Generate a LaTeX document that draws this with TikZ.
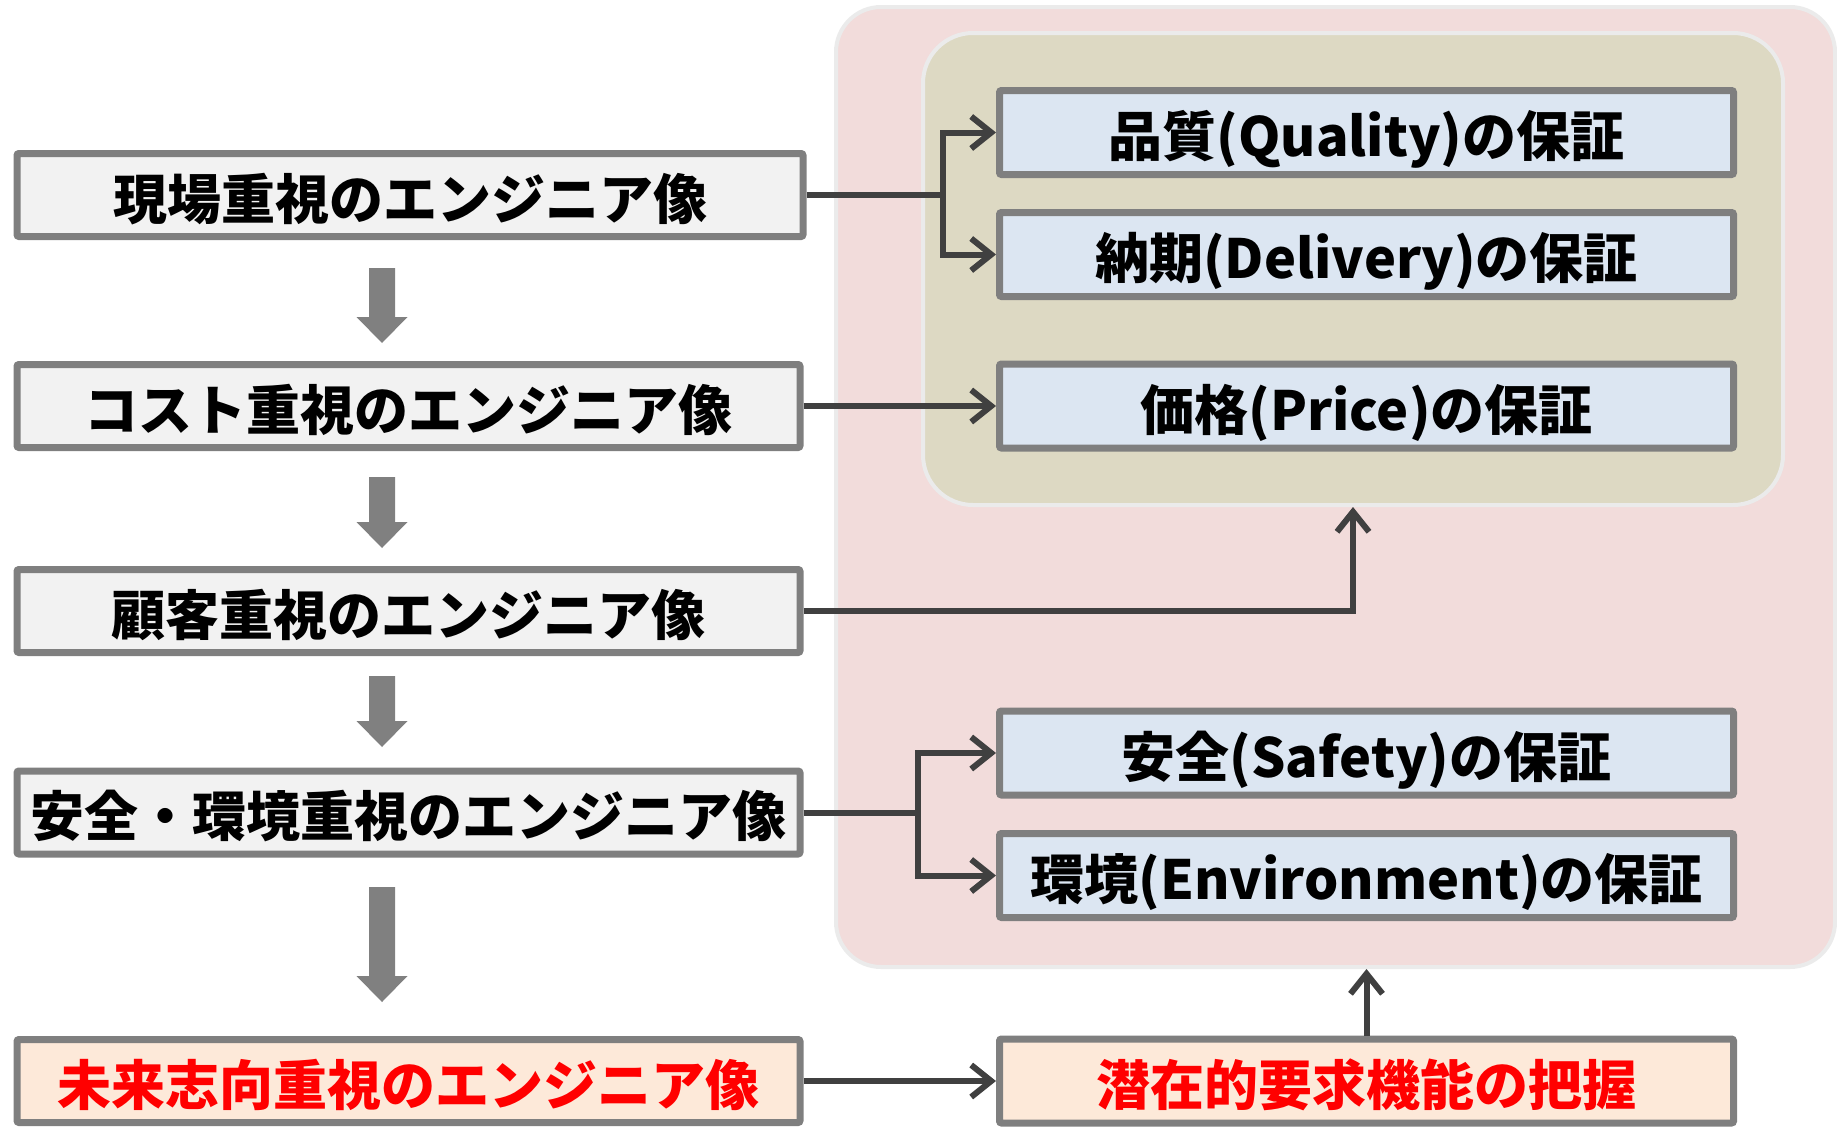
\documentclass[tikz,border=0pt]{standalone}
\usepackage{fontspec}
\setmainfont{Noto Sans CJK JP}
\usetikzlibrary{arrows.meta,calc}
\definecolor{boxborder}{HTML}{7F7F7F}
\definecolor{leftfill}{HTML}{F2F2F2}
\definecolor{bluefill}{HTML}{DCE6F2}
\definecolor{redfill}{HTML}{FDE9D9}
\definecolor{redtext}{HTML}{FF0000}
\definecolor{pinkfill}{HTML}{F2DCDB}
\definecolor{olivefill}{HTML}{DDD9C3}
\definecolor{regionborder}{HTML}{EBEBEB}
\definecolor{conn}{HTML}{404040}
\definecolor{blockarr}{HTML}{808080}
\newcommand{\blockarrow}[3]{%
  \fill[blockarr] (#1-13,#2) -- (#1+13,#2) -- (#1+13,#3-26) -- (#1+25.5,#3-26)
    -- (#1,#3) -- (#1-25.5,#3-26) -- (#1-13,#3-26) -- cycle;}
\tikzset{
  boxtext/.style={font=\fontsize{54}{62}\selectfont\bfseries, text height=62pt, text depth=14pt},
  lbox/.style={draw=boxborder, line width=7pt, fill=leftfill, rounded corners=2pt,
    minimum width=783pt, minimum height=83pt, inner sep=0pt, boxtext},
  rbox/.style={draw=boxborder, line width=7pt, fill=bluefill, rounded corners=2pt,
    minimum width=734pt, minimum height=84pt, inner sep=0pt, boxtext},
  redbox/.style={fill=redfill, text=redtext},
  region/.style={draw=regionborder, line width=4pt, inner sep=0pt},
  conline/.style={draw=conn, line width=6pt},
  arr/.style={conline, -{Straight Barb[length=20pt,width=32pt]}},
}
\begin{document}
\begin{tikzpicture}[x=1pt,y=-1pt]
\useasboundingbox (0,0) rectangle (1837,1127);
% background regions
\node[region, fill=pinkfill, rounded corners=45pt, minimum width=999pt, minimum height=960pt]
  (pinkbg) at (1335.5,487) {};
\node[region, fill=olivefill, rounded corners=50pt, minimum width=860pt, minimum height=472pt]
  (olivebg) at (1353,269) {};
% left column
\node[lbox, minimum width=786pt] (L1) at (410,195) {現場重視のエンジニア像};
\node[lbox] (L2) at (408.5,406) {コスト重視のエンジニア像};
\node[lbox] (L3) at (408.5,611) {顧客重視のエンジニア像};
\node[lbox] (L4) at (408.5,812.5) {安全・環境重視のエンジニア像};
\node[lbox, redbox] (L5) at (408.5,1081) {未来志向重視のエンジニア像};
% right column
\node[rbox] (Q) at (1366.5,132.5) {品質(Quality)の保証};
\node[rbox] (D) at (1366.5,254.5) {納期(Delivery)の保証};
\node[rbox] (P) at (1366.5,406) {価格(Price)の保証};
\node[rbox] (S) at (1366.5,753) {安全(Safety)の保証};
\node[rbox] (E) at (1366.5,875.5) {環境(Environment)の保証};
\node[rbox, redbox] (R) at (1366.5,1081) {潜在的要求機能の把握};
% block arrows
\blockarrow{382}{268}{343}
\blockarrow{382}{477}{548}
\blockarrow{382}{676}{747}
\blockarrow{382}{887}{1002}
% connectors
\draw[conline] (L1.east) -- (943,195) coordinate (j1);
\draw[arr] (j1) |- (Q.west);
\draw[arr] (j1) |- (D.west);
\draw[arr] (L2.east) -- (P.west);
\draw[arr] (L3.east) -| (olivebg.south);
\draw[conline] (L4.east) -- (918,812.5) coordinate (j4);
\draw[arr] (j4) |- (S.west);
\draw[arr] (j4) |- (E.west);
\draw[arr] (L5.east) -- (R.west);
\draw[arr] (R.north) -- (pinkbg.south -| R.north);
\end{tikzpicture}
\end{document}
